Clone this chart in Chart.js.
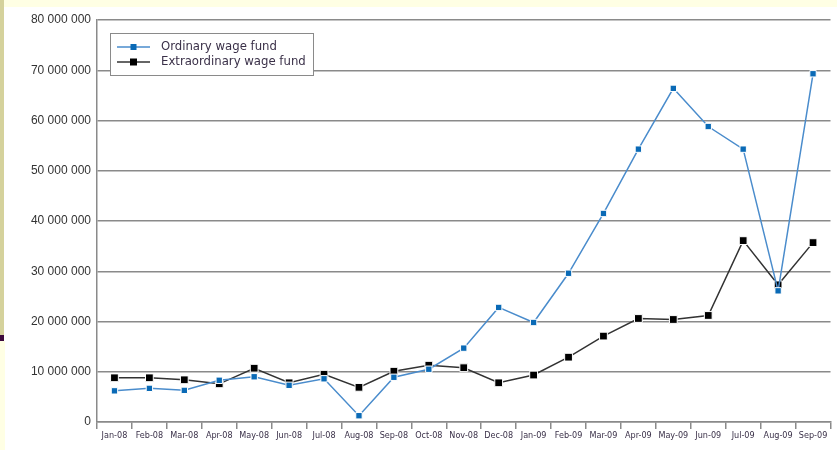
<!DOCTYPE html>
<html>
<head>
<meta charset="utf-8">
<script src="https://cdn.jsdelivr.net/npm/chart.js@4.4.0/dist/chart.umd.min.js"></script>
<style>
  html, body { margin: 0; padding: 0; background: #ffffff; }
  #wrap { position: relative; width: 837px; height: 450px; overflow: hidden; background: #ffffff; }
  .strip { position: absolute; }
  #topStrip { left: 0; top: 0; width: 837px; height: 7px; background: #FFFFE4; }
  #leftStrip { left: 0; top: 0; width: 4px; height: 335px; background: #D5D29C; }
  #leftBar { left: 0; top: 335px; width: 4px; height: 6px; background: #3C0A3C; }
  #leftLow { left: 0; top: 341px; width: 5px; height: 109px; background: #FFFFE4; }
  canvas { position: absolute; left: 0; top: 0; }
</style>
</head>
<body>
<div id="wrap">
  <div class="strip" id="topStrip"></div>
  <div class="strip" id="leftStrip"></div>
  <div class="strip" id="leftBar"></div>
  <div class="strip" id="leftLow"></div>
  <canvas id="c" width="837" height="450"></canvas>
</div>
<script>
const categories = ['Jan-08','Feb-08','Mar-08','Apr-08','May-08','Jun-08','Jul-08','Aug-08','Sep-08','Oct-08','Nov-08','Dec-08',
                    'Jan-09','Feb-09','Mar-09','Apr-09','May-09','Jun-09','Jul-09','Aug-09','Sep-09'];
const ordinaryWageFund = [6200000, 6700000, 6300000, 8300000, 9000000, 7300000, 8600000, 1250000, 8900000, 10500000, 14700000, 22800000,
                          19800000, 29600000, 41500000, 54300000, 66400000, 58800000, 54300000, 26100000, 69300000];
const extraordinaryWageFund = [8800000, 8800000, 8400000, 7600000, 10700000, 7800000, 9500000, 6900000, 10100000, 11300000, 10800000, 7800000,
                               9350000, 12900000, 17100000, 20600000, 20400000, 21200000, 36100000, 27300000, 35700000];
const seriesNames = ['Ordinary wage fund', 'Extraordinary wage fund'];
const yTicks = [0, 10000000, 20000000, 30000000, 40000000, 50000000, 60000000, 70000000, 80000000];

function fmt(v) {
  if (v === 0) return '0';
  return String(v).replace(/\B(?=(\d{3})+(?!\d))/g, ' ');
}

const legendBox = {
  id: 'legendBox',
  afterDraw(chart) {
    const ctx = chart.ctx;
    const x0 = 110, y0 = 33, w = 203, h = 42;
    ctx.save();
    ctx.fillStyle = '#ffffff';
    ctx.fillRect(x0, y0, w, h);
    ctx.strokeStyle = '#8a8a8a';
    ctx.lineWidth = 1;
    ctx.strokeRect(x0 + 0.5, y0 + 0.5, w, h);
    chart.data.datasets.forEach((ds, i) => {
      const y = y0 + 14 + i * 15;
      ctx.strokeStyle = ds.borderColor;
      ctx.lineWidth = 1.5;
      ctx.beginPath();
      ctx.moveTo(117, y);
      ctx.lineTo(150, y);
      ctx.stroke();
      ctx.fillStyle = ds.pointBackgroundColor;
      const s = i === 0 ? 6 : 7;
      ctx.fillRect(133.5 - s / 2, y - s / 2, s, s);
      ctx.fillStyle = '#3a3048';
      ctx.font = '13px "DejaVu Sans Condensed", "Liberation Sans", sans-serif';
      ctx.textBaseline = 'middle';
      ctx.textAlign = 'left';
      ctx.fillText(ds.label, 161, y);
    });
    ctx.restore();
  }
};

new Chart(document.getElementById('c'), {
  type: 'line',
  data: {
    labels: categories,
    datasets: [
      {
        label: seriesNames[0],
        data: ordinaryWageFund,
        borderColor: '#4a8ccc',
        borderWidth: 1.5,
        pointStyle: 'rect',
        pointRadius: 4.5,
        pointBackgroundColor: '#0a6ab6',
        pointBorderColor: '#ffffff',
        pointBorderWidth: 1,
        tension: 0
      },
      {
        label: seriesNames[1],
        data: extraordinaryWageFund,
        borderColor: '#333333',
        borderWidth: 1.5,
        pointStyle: 'rect',
        pointRadius: 5.5,
        pointBackgroundColor: '#000000',
        pointBorderColor: '#ffffff',
        pointBorderWidth: 1,
        tension: 0
      }
    ]
  },
  options: {
    responsive: false,
    animation: false,
    layout: { padding: { top: 20, right: 3, left: 0, bottom: 0 } },
    plugins: {
      legend: { display: false },
      tooltip: { enabled: false }
    },
    scales: {
      x: {
        offset: true,
        grid: {
          offset: true,
          drawOnChartArea: false,
          drawTicks: true,
          tickLength: 7,
          color: '#8a8a8a',
          lineWidth: 1.5
        },
        border: { display: true, color: '#8a8a8a', width: 1.5 },
        ticks: {
          autoSkip: false,
          maxRotation: 0,
          padding: 1,
          color: '#3a3048',
          font: { family: '"DejaVu Sans Condensed", sans-serif', size: 9 }
        },
        afterFit(scale) { scale.height = 28; }
      },
      y: {
        min: 0,
        max: 80000000,
        afterBuildTicks(scale) { scale.ticks = yTicks.map(v => ({ value: v })); },
        grid: {
          drawTicks: false,
          color: '#8a8a8a',
          lineWidth: 1.5
        },
        border: { display: true, color: '#8a8a8a', width: 1.5 },
        ticks: {
          padding: 6,
          color: '#333333',
          font: { family: '"Liberation Sans", sans-serif', size: 12 },
          callback: (v) => fmt(v)
        },
        afterFit(scale) { scale.width = 97; }
      }
    }
  },
  plugins: [legendBox]
});
</script>
</body>
</html>
